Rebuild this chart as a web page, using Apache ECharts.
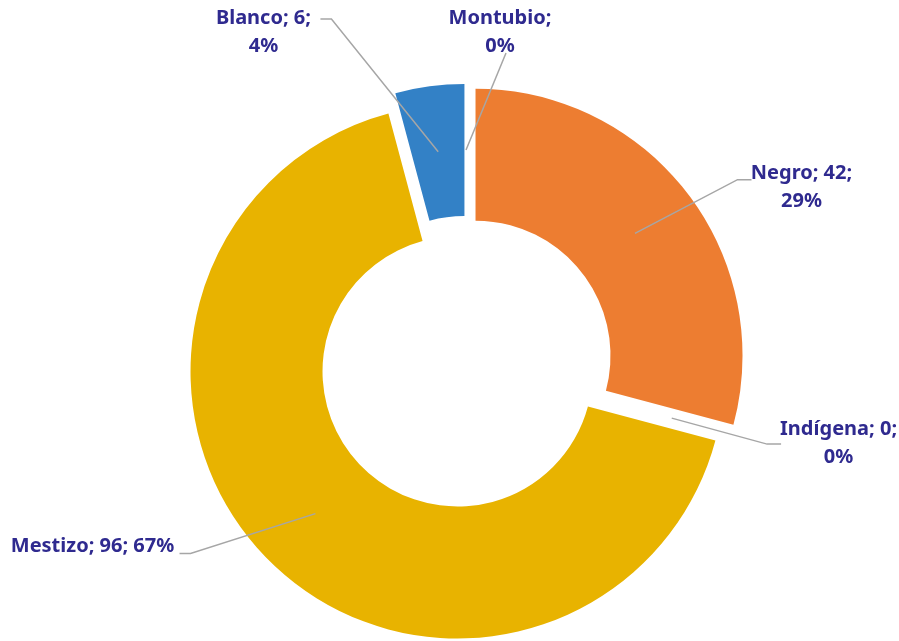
<!DOCTYPE html>
<html>
<head>
<meta charset="utf-8">
<script src="https://cdn.jsdelivr.net/npm/echarts@6/dist/echarts.min.js"></script>
<style>
  html, body { margin: 0; padding: 0; background: #fff; }
  #main { width: 899px; height: 641px; }
</style>
</head>
<body>
<div id="main"></div>
<script>
var myChart = echarts.init(document.getElementById('main'));

// datos
var categorias = ['Montubio', 'Negro', 'Indígena', 'Mestizo', 'Blanco'];
var valores = [0, 42, 0, 96, 6];
var colores = ['#A5A5A5', '#ED7D31', '#4472C4', '#E8B300', '#3381C6'];

// layout
var centro = [466, 363];
var radioInt = 135, radioExt = 267;
var radioLinea = 201; // las líneas guía arrancan a media corona
var altoLinea = 28;
var fuente = 'bold 20px "Noto Sans"';

// centro del bloque de texto de cada etiqueta
var posEtiquetas = [[500, 31], [802, 187], [837, 441], [96, 545], [264, 31]];
// ajuste empírico del texto respecto a labelRect
var ajustes = [[0, 13], [-10, 8], [-10, -1], [5, -7], [1, 13]];
// la línea de Montubio llega por debajo del texto
var lineaAbajo = [true, false, false, false, false];
// formato del texto de cada etiqueta
var formatos = ['nombre;\npct', 'nombre; valor;\npct', 'nombre; valor;\npct', 'nombre; valor; pct', 'nombre; valor;\npct'];

var total = valores.reduce(function (a, b) { return a + b; }, 0);

function textoEtiqueta(i) {
  var pct = Math.round(valores[i] / total * 100) + '%';
  return formatos[i]
    .replace('nombre', categorias[i])
    .replace('valor', valores[i])
    .replace('pct', pct);
}

// ancho de cada etiqueta para centrar las líneas de texto
var ctx = document.createElement('canvas').getContext('2d');
ctx.font = fuente;
var lineas = categorias.map(function (c, i) { return textoEtiqueta(i).split('\n'); });
var anchos = lineas.map(function (ls) {
  return Math.ceil(Math.max.apply(null, ls.map(function (l) {
    return ctx.measureText(l).width;
  })));
});

var rich = {};
categorias.forEach(function (c, i) {
  rich['r' + i] = {
    color: '#2F2A8F',
    fontFamily: 'Noto Sans',
    fontWeight: 'bold',
    fontSize: 20,
    lineHeight: altoLinea,
    width: anchos[i],
    align: 'center'
  };
});

function datosPie(transparente) {
  return categorias.map(function (c, i) {
    return {
      name: c,
      value: valores[i],
      selected: true,
      itemStyle: { color: transparente ? 'rgba(0,0,0,0)' : colores[i] }
    };
  });
}

var base = {
  type: 'pie',
  center: centro,
  radius: [radioInt, radioExt],
  startAngle: 90,
  clockwise: true,
  selectedMode: 'multiple',
  selectedOffset: 12,
  avoidLabelOverlap: false,
  silent: true,
  emphasis: { disabled: true }
};

var option = {
  animation: false,
  series: [
    // sectores
    Object.assign({}, base, {
      z: 2,
      label: { show: false },
      labelLine: { show: false },
      data: datosPie(false)
    }),
    // etiquetas y líneas guía por encima de los sectores
    Object.assign({}, base, {
      z: 3,
      label: {
        show: true,
        position: 'outside',
        formatter: function (p) {
          return lineas[p.dataIndex].map(function (l) {
            return '{r' + p.dataIndex + '|' + l + '}';
          }).join('\n');
        },
        rich: rich
      },
      labelLine: {
        show: true,
        showAbove: true,
        lineStyle: { color: '#A6A6A6', width: 1.5 }
      },
      labelLayout: function (p) {
        var i = p.dataIndex;
        var pos = posEtiquetas[i];
        var r = p.labelRect;
        var w = anchos[i];
        var h = lineas[i].length * altoLinea;
        var p0 = p.labelLinePoints[0];
        var vx = p0[0] - centro[0], vy = p0[1] - centro[1];
        var d = Math.sqrt(vx * vx + vy * vy);
        var ini = [centro[0] + vx * radioLinea / d, centro[1] + vy * radioLinea / d];
        var puntos;
        if (lineaAbajo[i]) {
          puntos = [ini, [pos[0] + 6, pos[1] + h / 2 + 6]];
        } else if (pos[0] > centro[0]) {
          var xf = pos[0] - w / 2 - 9;
          puntos = [ini, [xf - 14, pos[1]], [xf, pos[1]]];
        } else {
          var xf2 = pos[0] + w / 2 + 10;
          puntos = [ini, [xf2 + 11, pos[1]], [xf2, pos[1]]];
        }
        return {
          dx: pos[0] - (r.x + r.width / 2) + ajustes[i][0],
          dy: pos[1] - (r.y + r.height / 2) + ajustes[i][1],
          labelLinePoints: puntos
        };
      },
      data: datosPie(true)
    })
  ]
};

myChart.setOption(option);
</script>
</body>
</html>
